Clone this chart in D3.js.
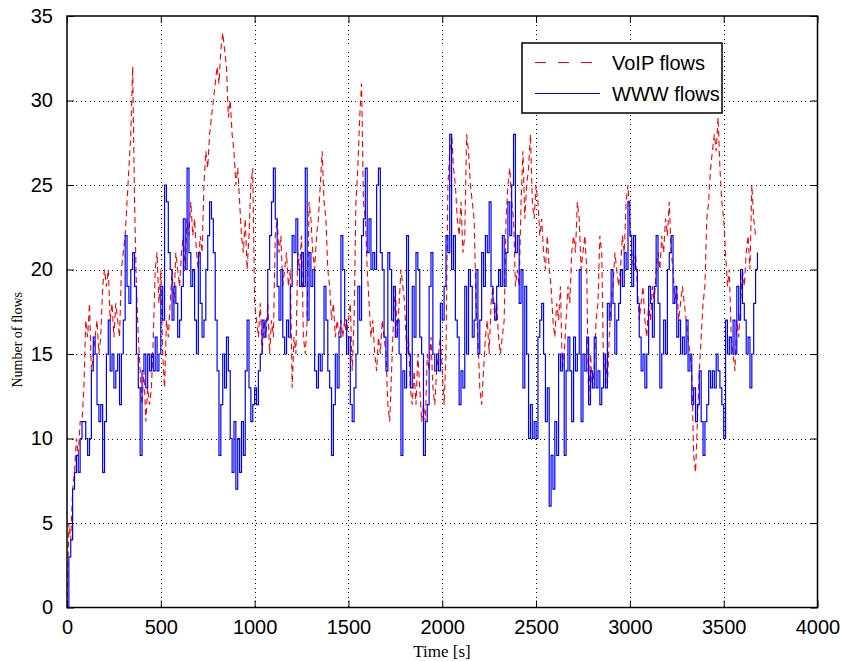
<!DOCTYPE html>
<html>
<head>
<meta charset="utf-8">
<script src="https://cdn.jsdelivr.net/npm/d3@7"></script>
<style>
  body { margin: 0; background: #fff; }
  svg { display: block; }
</style>
</head>
<body>
<svg id="chart" width="842" height="661"></svg>
<script>
// Seconds between consecutive samples of both flow counts
const sampleStep = 10;

// Number of active VoIP flows, one sample every 10 s from t = 0
const voipFlows = [
  0,5,4,7,8,10,9,11,11,13,
  17,16,18,14,15,16,17,15,16,19,
  20,19,20,17,18,16,18,17,16,20,
  21,22,24,26,28,32,24,19,16,14,
  12,14,11,13,12,13,16,20,21,18,
  20,15,13,17,16,18,20,18,21,20,
  19,21,22,20,23,22,24,22,23,21,
  20,22,21,25,27,26,28,29,30,31,
  32,31,33,34,33,32,29,30,28,27,
  25,26,24,22,21,23,20,22,25,26,
  18,17,16,18,15,17,16,18,15,17,
  16,22,23,21,22,19,20,21,19,20,
  13,16,15,21,20,22,16,15,17,24,
  23,21,20,22,23,25,27,24,23,20,
  19,17,18,16,17,16,17,16,17,16,
  17,18,14,17,24,26,29,31,24,23,
  20,18,16,17,15,14,16,15,17,16,
  15,12,11,14,17,19,16,18,20,19,
  18,15,16,13,12,14,12,15,13,11,
  12,11,15,14,16,13,12,14,15,16,
  14,12,15,25,27,28,26,25,23,22,
  24,21,22,28,27,25,24,23,18,16,
  13,12,14,16,17,15,18,19,17,18,
  16,15,16,17,23,25,26,24,23,19,
  20,19,24,27,23,25,26,28,24,23,
  25,24,22,23,21,20,22,20,19,17,
  16,18,17,19,14,15,17,19,18,21,
  22,21,24,23,20,21,22,20,12,15,
  13,14,17,18,22,21,14,15,13,16,
  18,19,21,20,19,20,22,21,24,25,
  23,21,20,21,19,17,18,19,17,16,
  18,17,19,18,20,21,20,22,21,23,
  22,24,21,20,18,19,17,18,19,18,
  17,16,15,14,9,8,11,14,16,18,
  19,23,24,26,27,28,27,29,26,24,
  23,21,19,20,16,15,14,17,16,18,
  20,19,21,22,20,25,23,22,22
];

// Number of active WWW flows, same sampling
const wwwFlows = [
  0,3,4,7,8,9,8,10,11,11,
  10,9,10,14,16,15,12,11,12,8,
  11,15,17,14,15,13,14,15,12,15,
  17,22,19,18,20,21,19,15,13,9,
  14,15,13,15,14,15,14,16,14,15,
  19,17,25,24,21,20,17,19,18,16,
  17,19,23,20,26,21,19,20,17,15,
  21,18,16,17,20,22,24,23,21,17,
  14,9,12,15,13,16,14,10,8,11,
  7,10,8,11,9,14,17,13,11,12,
  13,12,14,15,17,16,17,20,22,24,
  26,23,19,17,20,16,15,17,16,19,
  22,21,23,20,19,21,19,26,17,21,
  19,20,14,13,15,14,15,19,17,14,
  13,9,12,15,13,16,22,20,17,15,
  16,12,11,13,15,19,17,22,23,26,
  21,23,20,21,20,25,26,21,20,16,
  14,21,20,17,19,16,17,15,9,14,
  13,22,15,13,19,16,21,20,16,15,
  9,11,12,19,21,15,14,15,14,18,
  17,19,22,21,28,20,22,17,16,12,
  14,13,19,15,20,19,16,17,20,15,
  17,21,19,22,21,24,19,18,17,19,
  20,19,22,19,21,24,22,25,28,21,
  22,18,20,13,19,15,10,12,10,11,
  10,16,17,18,15,11,13,6,9,7,
  11,9,15,14,15,9,14,16,14,11,
  16,14,15,20,11,15,14,16,12,14,
  13,16,13,14,12,13,15,13,18,17,
  20,18,15,17,18,20,19,21,20,24,
  22,19,22,20,18,16,14,15,13,15,
  19,18,16,19,22,18,13,15,17,15,
  20,21,22,18,19,16,17,15,16,15,
  17,14,15,12,13,11,12,14,11,9,
  11,12,14,13,14,13,15,14,13,12,
  10,17,15,16,15,17,15,19,17,20,
  18,17,15,16,13,15,18,20,21
];

const xTicks = [0, 500, 1000, 1500, 2000, 2500, 3000, 3500, 4000];
const yTicks = [0, 5, 10, 15, 20, 25, 30, 35];
const seriesNames = ["VoIP flows", "WWW flows"];
const seriesColors = ["#ff0000", "#0000ff"];
const xTitle = "Time [s]";
const yTitle = "Number of flows";

const svg = d3.select("#chart");
const plot = { left: 67, right: 817.5, top: 16, bottom: 607.5 };

const x = d3.scaleLinear().domain([0, 4000]).range([plot.left, plot.right]);
const y = d3.scaleLinear().domain([0, 35]).range([plot.bottom, plot.top]);

const times = d3.range(voipFlows.length).map(i => i * sampleStep);
const voipPts = times.map((t, i) => [t, voipFlows[i]]);
const wwwPts = times.map((t, i) => [t, wwwFlows[i]]);

// Dotted grid at the major ticks
const grid = svg.append("g").attr("stroke", "#000").attr("stroke-width", 1)
  .attr("stroke-dasharray", "1,3.5").attr("shape-rendering", "crispEdges");
xTicks.slice(1, -1).forEach(v => {
  grid.append("line").attr("x1", Math.round(x(v)) + 0.5).attr("x2", Math.round(x(v)) + 0.5)
    .attr("y1", plot.top).attr("y2", plot.bottom);
});
yTicks.slice(1, -1).forEach(v => {
  grid.append("line").attr("y1", Math.round(y(v)) + 0.5).attr("y2", Math.round(y(v)) + 0.5)
    .attr("x1", plot.left).attr("x2", plot.right);
});

// Data lines, clipped to the axes box
svg.append("clipPath").attr("id", "plotClip").append("rect")
  .attr("x", plot.left).attr("y", plot.top)
  .attr("width", plot.right - plot.left).attr("height", plot.bottom - plot.top);

const lines = svg.append("g").attr("clip-path", "url(#plotClip)");
const voipLine = d3.line().x(d => x(d[0])).y(d => y(d[1]));
const wwwLine = d3.line().x(d => x(d[0])).y(d => y(d[1])).curve(d3.curveStepAfter);

lines.append("path").datum(voipPts)
  .attr("d", voipLine)
  .attr("fill", "none").attr("stroke", seriesColors[0]).attr("stroke-width", 1.1)
  .attr("stroke-dasharray", "6,4");

lines.append("path").datum(wwwPts)
  .attr("d", wwwLine)
  .attr("fill", "none").attr("stroke", seriesColors[1]).attr("stroke-width", 1.2);

// Axes: ticks point inward on all four sides
const tickLen = 7;
const axisFont = "'Liberation Sans', Arial, Helvetica, sans-serif";
const plain = d3.format("d");

const xAxisB = d3.axisBottom(x).tickValues(xTicks).tickFormat(plain)
  .tickSizeInner(-tickLen).tickSizeOuter(0).tickPadding(12);
const xAxisT = d3.axisTop(x).tickValues(xTicks).tickSizeInner(-tickLen).tickSizeOuter(0).tickFormat("");
const yAxisL = d3.axisLeft(y).tickValues(yTicks).tickFormat(plain)
  .tickSizeInner(-tickLen).tickSizeOuter(0).tickPadding(14);
const yAxisR = d3.axisRight(y).tickValues(yTicks).tickSizeInner(-tickLen).tickSizeOuter(0).tickFormat("");

function styleAxis(g) {
  g.select(".domain").remove();
  g.selectAll(".tick line").attr("stroke", "#000").attr("stroke-width", 1);
  g.selectAll(".tick text").attr("fill", "#000")
    .style("font-family", axisFont).style("font-size", "20px");
}

svg.append("g").attr("transform", `translate(0,${plot.bottom})`).call(xAxisB).call(styleAxis);
svg.append("g").attr("transform", `translate(0,${plot.top})`).call(xAxisT).call(styleAxis);
svg.append("g").attr("transform", `translate(${plot.left},0)`).call(yAxisL).call(styleAxis);
svg.append("g").attr("transform", `translate(${plot.right},0)`).call(yAxisR).call(styleAxis);

// Axes box
svg.append("rect")
  .attr("x", plot.left).attr("y", plot.top)
  .attr("width", plot.right - plot.left).attr("height", plot.bottom - plot.top)
  .attr("fill", "none").attr("stroke", "#000").attr("stroke-width", 1.5);

// Axis titles
svg.append("text")
  .attr("x", 442).attr("y", 657)
  .attr("text-anchor", "middle")
  .style("font-family", "'Liberation Serif', 'Times New Roman', serif")
  .style("font-size", "17px")
  .text(xTitle);

svg.append("text")
  .attr("transform", `translate(22,${(plot.top + plot.bottom) / 2 + 28}) rotate(-90)`)
  .attr("text-anchor", "middle")
  .style("font-family", "'Liberation Serif', 'Times New Roman', serif")
  .style("font-size", "14px")
  .text(yTitle);

// Legend
const legend = svg.append("g").attr("transform", "translate(522,43)");
legend.append("rect").attr("width", 200).attr("height", 70)
  .attr("fill", "#fff").attr("stroke", "#000").attr("stroke-width", 1.5);
seriesNames.forEach((name, i) => {
  const ly = 19.5 + i * 31;
  legend.append("line")
    .attr("x1", 13).attr("x2", 78).attr("y1", ly).attr("y2", ly)
    .attr("stroke", seriesColors[i]).attr("stroke-width", 1)
    .attr("stroke-dasharray", i === 0 ? "11,12" : null);
  legend.append("text")
    .attr("x", 90).attr("y", ly).attr("dy", "0.35em")
    .style("font-family", axisFont).style("font-size", "20px")
    .text(name);
});
</script>
</body>
</html>
